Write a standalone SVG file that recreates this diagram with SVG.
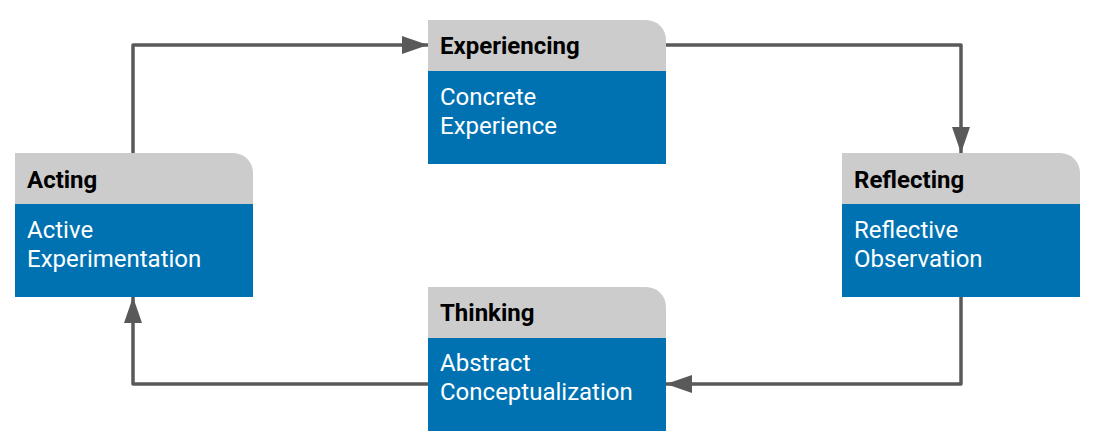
<svg xmlns="http://www.w3.org/2000/svg" width="1096" height="445" viewBox="0 0 1096 445">
<style>
.hd{fill:#cccccc}
.bd{fill:#0072b2}
.ht{font-family:Roboto,"Liberation Sans",sans-serif;font-weight:bold;font-size:24px;fill:#000}
.bt{font-family:Roboto,"Liberation Sans",sans-serif;font-size:24px;fill:#fff}
.cn{fill:none;stroke:#595959;stroke-width:3.5;stroke-linejoin:round}
</style>
<defs>
<marker id="ah" viewBox="0 0 26 18" refX="26" refY="9" markerWidth="26" markerHeight="18" markerUnits="userSpaceOnUse" orient="auto">
<path d="M0,0 L26,9 L0,18 z" fill="#595959"/>
</marker>
</defs>
<rect width="1096" height="445" fill="#fff"/>
<g id="connectors">
<path class="cn" d="M133,153 V45 H428" marker-end="url(#ah)"/>
<path class="cn" d="M666,45 H961 V153" marker-end="url(#ah)"/>
<path class="cn" d="M961,297 V384 H666" marker-end="url(#ah)"/>
<path class="cn" d="M428,384 H133 V297" marker-end="url(#ah)"/>
</g>
<g id="experiencing">
<path class="hd" d="M428,20 H646 A20,20 0 0 1 666,40 V71 H428 z"/>
<rect class="bd" x="428" y="71" width="238" height="93"/>
<text class="ht" x="440" y="54">Experiencing</text>
<text class="bt" x="440" y="105">Concrete</text>
<text class="bt" x="440" y="134">Experience</text>
</g>
<g id="reflecting">
<path class="hd" d="M842,153 H1060 A20,20 0 0 1 1080,173 V204 H842 z"/>
<rect class="bd" x="842" y="204" width="238" height="93"/>
<text class="ht" x="854" y="188">Reflecting</text>
<text class="bt" x="854" y="238">Reflective</text>
<text class="bt" x="854" y="267">Observation</text>
</g>
<g id="thinking">
<path class="hd" d="M428,287 H646 A20,20 0 0 1 666,307 V338 H428 z"/>
<rect class="bd" x="428" y="338" width="238" height="93"/>
<text class="ht" x="440" y="321">Thinking</text>
<text class="bt" x="440" y="371">Abstract</text>
<text class="bt" x="440" y="400">Conceptualization</text>
</g>
<g id="acting">
<path class="hd" d="M15,153 H233 A20,20 0 0 1 253,173 V204 H15 z"/>
<rect class="bd" x="15" y="204" width="238" height="93"/>
<text class="ht" x="27" y="188">Acting</text>
<text class="bt" x="27" y="238">Active</text>
<text class="bt" x="27" y="267">Experimentation</text>
</g>
</svg>
